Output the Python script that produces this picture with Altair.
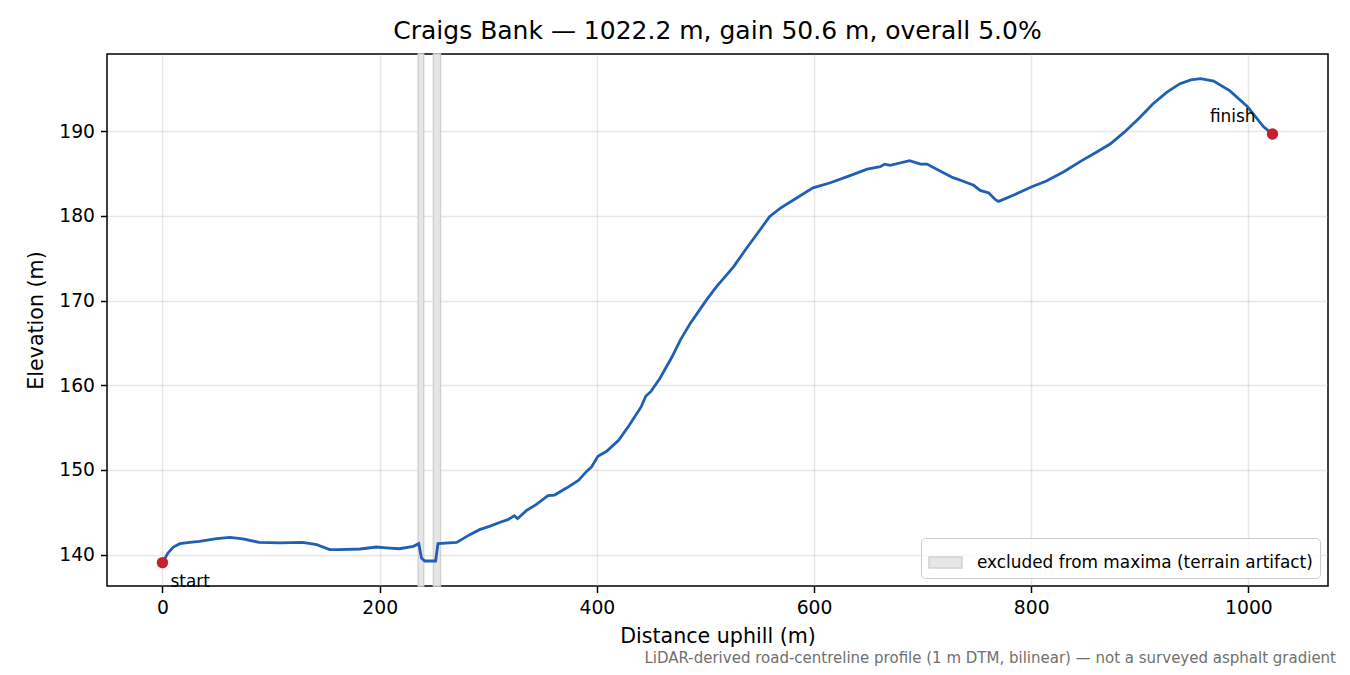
import altair as alt
import pandas as pd

# elevation profile (distance along road, elevation)
dist_m = [0, 5, 10, 16, 25, 34, 50, 62, 74, 89, 108, 129, 142, 154, 163, 182, 197, 206,
          218, 231, 236, 238.5, 241.5, 251.5, 253.7, 271, 283, 292, 301, 311, 318, 324,
          327, 335, 344, 355, 361, 372, 383, 390.5, 395, 401, 409, 420, 430, 441, 445,
          450, 458, 469, 477, 486, 501, 510, 526, 538, 550, 559, 569, 584, 599, 615, 630,
          649, 661, 665, 670, 688, 698, 704, 716, 728, 735, 747, 753, 761, 767, 770, 784,
          800, 814, 830, 845, 860, 873, 886, 900, 912, 925, 937, 947, 956, 968, 983, 999,
          1014, 1022.2]
elev_m = [139.06, 140.2, 140.9, 141.3, 141.45, 141.57, 141.89, 142.04, 141.85, 141.45,
          141.38, 141.45, 141.18, 140.6, 140.6, 140.67, 140.9, 140.8, 140.7, 140.98, 141.3,
          139.6, 139.25, 139.25, 141.3, 141.45, 142.36, 142.95, 143.34, 143.82, 144.13,
          144.6, 144.25, 145.2, 145.9, 146.96, 147.04, 147.86, 148.77, 149.83, 150.34,
          151.6, 152.2, 153.5, 155.3, 157.5, 158.7, 159.3, 160.8, 163.3, 165.35, 167.3,
          170.07, 171.6, 174.0, 176.2, 178.3, 179.9, 180.9, 182.1, 183.3, 183.9, 184.6,
          185.5, 185.8, 186.1, 185.95, 186.5, 186.1, 186.1, 185.3, 184.5, 184.2, 183.6,
          183.0, 182.7, 181.9, 181.7, 182.45, 183.4, 184.1, 185.2, 186.4, 187.5, 188.5,
          189.9, 191.6, 193.2, 194.6, 195.6, 196.05, 196.2, 195.9, 194.75, 192.9, 190.5,
          189.65]

# terrain-artifact spans excluded from maxima
excluded_from = [235.5, 249.5]
excluded_to = [240.5, 256.0]
BAND_LABEL = "excluded from maxima (terrain artifact)"

end_names = ["start", "finish"]
x_ticks = [0, 200, 400, 600, 800, 1000]
y_ticks = [140, 150, 160, 170, 180, 190]

TITLE = "Craigs Bank — 1022.2 m, gain 50.6 m, overall 5.0%"
FOOTNOTE = "LiDAR-derived road-centreline profile (1 m DTM, bilinear) — not a surveyed asphalt gradient"

FONT = "DejaVu Sans"
BLUE = "#1f5fb4"
RED = "#c62030"
BAND_FILL = "#e6e6e6"
BAND_EDGE = "#d1d1d1"

profile = pd.DataFrame({"dist": dist_m, "elev": elev_m})
bands = pd.DataFrame({"x0": excluded_from, "x1": excluded_to,
                      "kind": [BAND_LABEL] * len(excluded_from)})
ends = pd.DataFrame({"dist": [dist_m[0], dist_m[-1]],
                     "elev": [elev_m[0], elev_m[-1]],
                     "name": end_names})

x_scale = alt.Scale(domain=[-51.1, 1073.3], nice=False, zero=False)
y_scale = alt.Scale(domain=[136.3, 199.1], nice=False, zero=False)
x_axis = alt.Axis(title="Distance uphill (m)", values=x_ticks, format="d")
y_axis = alt.Axis(title="Elevation (m)", values=y_ticks, format="d")

band_layer = (
    alt.Chart(bands)
    .mark_rect(stroke=BAND_EDGE, strokeWidth=1.5)
    .encode(
        x=alt.X("x0:Q", scale=x_scale, axis=x_axis),
        x2="x1:Q",
        color=alt.Color(
            "kind:N",
            scale=alt.Scale(domain=[BAND_LABEL], range=[BAND_FILL]),
            legend=alt.Legend(
                title=None, orient="bottom-right", offset=8, padding=7,
                strokeColor="#cccccc", fillColor="rgba(255,255,255,0.8)", cornerRadius=4,
                labelFont=FONT, labelFontSize=16.9, labelColor="black", labelOffset=14,
                labelLimit=0,
                symbolType="M-1,-0.333H1V0.333H-1Z", symbolSize=1089,
                symbolStrokeColor=BAND_EDGE, symbolStrokeWidth=1.5, symbolOpacity=1,
            ),
        ),
    )
)

line_layer = (
    alt.Chart(profile)
    .mark_line(color=BLUE, strokeWidth=2.8)
    .encode(
        x=alt.X("dist:Q", scale=x_scale, axis=x_axis),
        y=alt.Y("elev:Q", scale=y_scale, axis=y_axis),
    )
)

end_points = (
    alt.Chart(ends)
    .mark_circle(color=RED, size=130, opacity=1)
    .encode(x=alt.X("dist:Q", scale=x_scale), y=alt.Y("elev:Q", scale=y_scale))
)

start_text = (
    alt.Chart(ends)
    .transform_filter(alt.datum.name == "start")
    .mark_text(align="left", baseline="alphabetic", dx=8, dy=24,
               font=FONT, fontSize=16.9, color="black")
    .encode(x=alt.X("dist:Q", scale=x_scale), y=alt.Y("elev:Q", scale=y_scale), text="name:N")
)

finish_text = (
    alt.Chart(ends)
    .transform_filter(alt.datum.name == "finish")
    .mark_text(align="right", baseline="alphabetic", dx=-17, dy=-12,
               font=FONT, fontSize=16.9, color="black")
    .encode(x=alt.X("dist:Q", scale=x_scale), y=alt.Y("elev:Q", scale=y_scale), text="name:N")
)

footnote = (
    alt.Chart(pd.DataFrame({"t": [FOOTNOTE]}))
    .mark_text(align="right", baseline="alphabetic", font=FONT, fontSize=15, color="#707070")
    .encode(x=alt.value(1229), y=alt.value(609), text="t:N")
)

chart = (
    alt.layer(band_layer, line_layer, end_points, start_text, finish_text, footnote)
    .properties(
        width=1221,
        height=532,
        autosize=alt.AutoSizeParams(type="none"),
        padding={"left": 99, "top": 46, "right": 14, "bottom": 81},
        title=alt.TitleParams(TITLE, font=FONT, fontSize=25, fontWeight="normal",
                              anchor="middle", frame="group", offset=9, color="black"),
    )
    .configure_view(stroke="black", strokeWidth=1.5)
    .configure_axis(
        domain=False, grid=True, gridColor="#b0b0b0", gridOpacity=0.3, gridWidth=1.5,
        tickColor="black", tickWidth=1.5, tickSize=6.5,
        labelFont=FONT, labelFontSize=18.75, labelColor="black", labelPadding=6,
        titleFont=FONT, titleFontSize=20.6, titleFontWeight="normal", titleColor="black",
    )
    .configure_axisX(titlePadding=9)
    .configure_axisY(titlePadding=12)
)

chart.save("out.html", embed_options={"renderer": "svg", "actions": False})
